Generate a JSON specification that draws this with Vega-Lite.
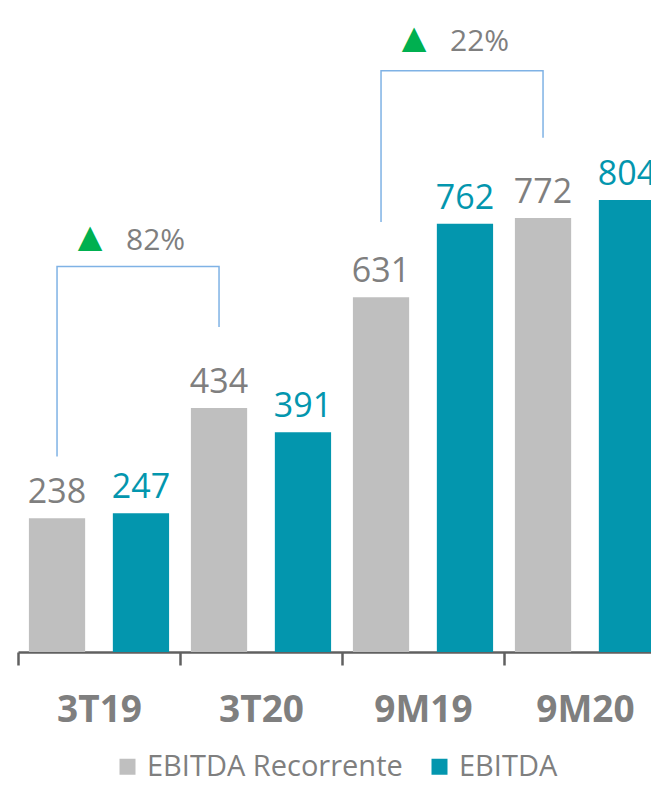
{
  "$schema": "https://vega.github.io/schema/vega-lite/v6.json",
  "autosize": {"type": "none"},
  "width": 633,
  "height": 652,
  "padding": {"top": 0, "left": 18, "right": 0, "bottom": 142},
  "background": "white",
  "config": {
    "view": {"stroke": null},
    "font": "Open Sans"
  },
  "datasets": {
    "bars": [
      {"cat": "3T19", "series": "EBITDA Recorrente", "v": 238},
      {"cat": "3T19", "series": "EBITDA", "v": 247},
      {"cat": "3T20", "series": "EBITDA Recorrente", "v": 434},
      {"cat": "3T20", "series": "EBITDA", "v": 391},
      {"cat": "9M19", "series": "EBITDA Recorrente", "v": 631},
      {"cat": "9M19", "series": "EBITDA", "v": 762},
      {"cat": "9M20", "series": "EBITDA Recorrente", "v": 772},
      {"cat": "9M20", "series": "EBITDA", "v": 804}
    ],
    "brackets": [
      {"grp": "a", "ord": 1, "cat": "3T19", "series": "EBITDA Recorrente", "v": 348},
      {"grp": "a", "ord": 2, "cat": "3T19", "series": "EBITDA Recorrente", "v": 686},
      {"grp": "a", "ord": 3, "cat": "3T20", "series": "EBITDA Recorrente", "v": 686},
      {"grp": "a", "ord": 4, "cat": "3T20", "series": "EBITDA Recorrente", "v": 578},
      {"grp": "b", "ord": 1, "cat": "9M19", "series": "EBITDA Recorrente", "v": 765},
      {"grp": "b", "ord": 2, "cat": "9M19", "series": "EBITDA Recorrente", "v": 1034},
      {"grp": "b", "ord": 3, "cat": "9M20", "series": "EBITDA Recorrente", "v": 1034},
      {"grp": "b", "ord": 4, "cat": "9M20", "series": "EBITDA Recorrente", "v": 915}
    ],
    "growth": [
      {"cat": "3T19", "v": 739, "pct": "82%"},
      {"cat": "9M19", "v": 1093, "pct": "22%"}
    ]
  },
  "layer": [
    {
      "data": {"name": "bars"},
      "mark": {"type": "bar"},
      "encoding": {
        "x": {
          "field": "cat", "type": "nominal", "sort": null,
          "scale": {"range": [0, 648], "paddingInner": 0, "paddingOuter": 0},
          "axis": {
            "title": null, "labelAngle": 0, "tickBand": "extent",
            "domainColor": "#606060", "domainWidth": 2.5,
            "tickColor": "#606060", "tickWidth": 2.5, "tickSize": 13,
            "labelFont": "Open Sans", "labelFontSize": 37, "labelFontWeight": "bold",
            "labelColor": "#7F7F7F", "labelPadding": 27
          }
        },
        "xOffset": {
          "field": "series", "type": "nominal",
          "sort": ["EBITDA Recorrente", "EBITDA"],
          "scale": {"paddingInner": 0.33, "paddingOuter": 0.13}
        },
        "y": {
          "field": "v", "type": "quantitative",
          "scale": {"domain": [0, 1160], "nice": false},
          "axis": null
        },
        "color": {
          "field": "series", "type": "nominal",
          "sort": ["EBITDA Recorrente", "EBITDA"],
          "scale": {"domain": ["EBITDA Recorrente", "EBITDA"], "range": ["#BFBFBF", "#0396AE"]},
          "legend": {
            "title": null, "orient": "none", "direction": "horizontal",
            "legendX": 95, "legendY": 752,
            "symbolType": "square", "symbolSize": 256, "symbolStrokeWidth": 0,
            "labelFont": "Open Sans", "labelFontSize": 29, "labelColor": "#7F7F7F",
            "labelLimit": 600,
            "labelOffset": 5, "columnPadding": 22, "padding": 0
          }
        }
      }
    },
    {
      "data": {"name": "bars"},
      "mark": {"type": "text", "baseline": "alphabetic", "dy": -15, "fontSize": 34, "font": "Open Sans"},
      "encoding": {
        "x": {"field": "cat", "type": "nominal", "sort": null},
        "xOffset": {"field": "series", "type": "nominal", "sort": ["EBITDA Recorrente", "EBITDA"]},
        "y": {"field": "v", "type": "quantitative"},
        "text": {"field": "v", "type": "quantitative"},
        "color": {
          "condition": {"test": "datum.series === 'EBITDA'", "value": "#0396AE"},
          "value": "#7F7F7F"
        }
      }
    },
    {
      "data": {"name": "brackets"},
      "mark": {"type": "line", "color": "#7FB2E5", "strokeWidth": 1.5},
      "encoding": {
        "x": {"field": "cat", "type": "nominal", "sort": null},
        "xOffset": {"field": "series", "type": "nominal", "sort": ["EBITDA Recorrente", "EBITDA"]},
        "y": {"field": "v", "type": "quantitative"},
        "detail": {"field": "grp"},
        "order": {"field": "ord", "type": "quantitative"}
      }
    },
    {
      "data": {"name": "growth"},
      "mark": {"type": "text", "text": "▲", "font": "DejaVu Sans", "fontSize": 32, "color": "#00B050", "baseline": "middle", "align": "center", "dx": -9},
      "encoding": {
        "x": {"field": "cat", "type": "nominal", "sort": null},
        "y": {"field": "v", "type": "quantitative"}
      }
    },
    {
      "data": {"name": "growth"},
      "mark": {"type": "text", "font": "Open Sans", "fontSize": 30, "color": "#7F7F7F", "baseline": "middle", "align": "left", "dx": 27, "dy": 4},
      "encoding": {
        "x": {"field": "cat", "type": "nominal", "sort": null},
        "y": {"field": "v", "type": "quantitative"},
        "text": {"field": "pct", "type": "nominal"}
      }
    }
  ]
}
